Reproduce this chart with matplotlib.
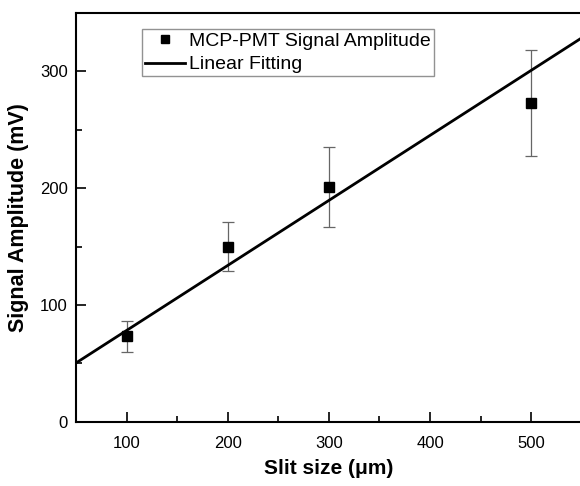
import matplotlib.pyplot as plt

slit = [100, 200, 300, 500]
amplitude = [73, 150, 201, 273]
err = [13, 21, 34, 45]

fit_x = [50, 550]
fit_y = [50.3, 328.8]

plt.rcParams['font.family'] = ['Liberation Sans', 'DejaVu Sans']

fig = plt.figure(figsize=(5.8, 4.86), dpi=100)
ax = fig.add_axes([0.131, 0.1323, 0.872, 0.8407])

ax.errorbar(slit, amplitude, yerr=err, fmt='none', ecolor='#666666', elinewidth=0.9, capsize=4, capthick=0.9)
ax.plot(slit, amplitude, 's', color='black', markersize=6.5, label='MCP-PMT Signal Amplitude')
ax.plot(fit_x, fit_y, '-', color='black', linewidth=2, label='Linear Fitting')

ax.set_xlim(50, 550)
ax.set_ylim(0, 350)
ax.set_xticks([100, 200, 300, 400, 500])
ax.set_xticks([150, 250, 350, 450], minor=True)
ax.set_yticks([0, 100, 200, 300])
ax.set_yticks([50, 150, 250], minor=True)
ax.tick_params(which='both', direction='in', labelsize=12, width=1.2)
ax.tick_params(which='major', length=7)
ax.tick_params(which='minor', length=4)
ax.tick_params(axis='x', pad=10)
ax.tick_params(axis='y', pad=6)
ax.spines['right'].set_visible(False)
for s in ['left', 'top', 'bottom']:
    ax.spines[s].set_linewidth(1.5)

ax.set_xlabel('Slit size (\u03bcm)', fontsize=15, fontweight='bold', labelpad=6)
ax.set_ylabel('Signal Amplitude (mV)', fontsize=15.5, fontweight='bold', labelpad=8)

leg = ax.legend(loc='upper left', bbox_to_anchor=(0.13, 0.96), fontsize=14, frameon=True,
                fancybox=False, edgecolor='#777777', handlelength=2.1, handletextpad=0.2,
                borderpad=0.15, labelspacing=0.3, borderaxespad=0, markerscale=0.8)
leg.get_frame().set_linewidth(1)

plt.savefig('out.png', dpi=100)
